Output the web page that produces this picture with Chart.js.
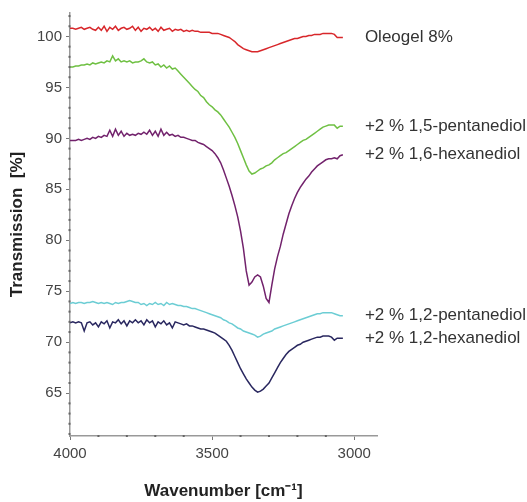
<!DOCTYPE html>
<html>
<head>
<meta charset="utf-8">
<script src="https://cdn.jsdelivr.net/npm/chart.js@4.4.0/dist/chart.umd.min.js"></script>
<style>
  body { margin: 0; background: #fff; }
</style>
</head>
<body>
<canvas id="irChart" width="527" height="502"></canvas>
<script>
// wavenumber grid, cm-1
const wavenumbers = [
  4000,3990,3980,3970,3960,3950,3940,3930,3920,3910,
  3900,3890,3880,3870,3860,3850,3840,3830,3820,3810,
  3800,3790,3780,3770,3760,3750,3740,3730,3720,3710,
  3700,3690,3680,3670,3660,3650,3640,3630,3620,3610,
  3600,3590,3580,3570,3560,3550,3540,3530,3520,3510,
  3500,3490,3480,3470,3460,3450,3440,3430,3420,3410,
  3400,3390,3380,3370,3360,3350,3340,3330,3320,3310,
  3300,3290,3280,3270,3260,3250,3240,3230,3220,3210,
  3200,3190,3180,3170,3160,3150,3140,3130,3120,3110,
  3100,3090,3080,3070,3060,3050,3040
];

const oleogel = [
  100.8,100.8,100.7,100.8,100.9,100.7,100.8,100.9,100.7,100.6,
  100.9,100.6,101.0,100.5,100.9,100.7,101.0,100.6,100.8,100.9,
  100.7,100.8,101.0,100.6,100.9,100.5,100.8,100.7,100.9,100.6,
  100.8,100.5,100.9,100.6,100.7,100.8,100.5,100.7,100.6,100.7,
  100.5,100.6,100.5,100.6,100.5,100.5,100.4,100.4,100.4,100.4,
  100.3,100.3,100.3,100.2,100.1,100.0,99.9,99.7,99.5,99.2,
  99.0,98.8,98.7,98.6,98.5,98.5,98.5,98.6,98.7,98.8,
  98.9,99.0,99.1,99.2,99.3,99.4,99.5,99.6,99.7,99.8,
  99.8,99.9,100.0,100.0,100.1,100.1,100.2,100.2,100.2,100.3,
  100.3,100.3,100.3,100.2,99.9,99.9,99.9
];

const pentanediol15 = [
  97.0,97.0,97.1,97.1,97.2,97.2,97.3,97.2,97.4,97.3,
  97.4,97.5,97.4,97.6,97.5,98.1,97.6,97.8,97.5,97.6,
  97.5,97.6,97.4,97.5,97.5,97.6,97.8,97.5,97.4,97.5,
  97.2,97.3,97.0,97.2,96.9,97.1,96.8,96.9,96.6,96.3,
  96.0,95.7,95.4,95.1,94.8,94.6,94.2,94.0,93.6,93.3,
  93.1,92.8,92.6,92.3,91.9,91.5,91.1,90.6,90.1,89.5,
  88.8,88.1,87.4,86.8,86.5,86.6,86.8,87.0,87.1,87.3,
  87.4,87.6,87.9,88.1,88.3,88.5,88.6,88.8,89.0,89.2,
  89.4,89.6,89.8,89.9,90.1,90.3,90.5,90.7,90.9,91.1,
  91.2,91.3,91.3,91.3,91.0,91.2,91.2
];

const hexanediol16 = [
  89.8,89.8,89.8,89.9,89.8,89.9,90.0,89.9,90.1,90.0,
  90.2,90.1,90.3,90.2,90.8,90.2,90.9,90.3,90.7,90.2,
  90.5,90.3,90.4,90.3,90.5,90.4,90.6,90.4,90.8,90.3,
  90.7,90.2,90.9,90.3,90.6,90.3,90.4,90.2,90.3,90.1,
  90.1,90.0,89.9,89.8,89.8,89.6,89.5,89.4,89.2,89.0,
  88.8,88.5,88.1,87.6,86.9,86.1,85.3,84.4,83.4,82.3,
  80.9,79.2,77.0,75.6,75.9,76.4,76.6,76.4,75.5,74.3,
  73.9,75.6,77.2,78.4,79.4,80.6,81.6,82.6,83.4,84.1,
  84.7,85.2,85.6,86.0,86.3,86.7,87.0,87.3,87.5,87.7,
  87.9,88.0,88.0,88.1,88.0,88.3,88.4
];

const pentanediol12 = [
  73.8,73.9,73.8,73.9,73.9,73.8,73.9,73.9,74.0,73.9,
  73.8,73.9,73.8,73.9,73.8,73.7,73.9,73.8,73.9,73.9,
  74.0,74.1,74.0,73.9,73.9,73.7,73.8,73.6,73.8,73.7,
  73.9,73.7,73.8,73.6,73.9,73.7,73.8,73.7,73.6,73.6,
  73.5,73.5,73.4,73.3,73.3,73.2,73.1,73.0,72.9,72.8,
  72.7,72.6,72.5,72.4,72.2,72.1,71.9,71.8,71.6,71.4,
  71.3,71.1,71.0,70.9,70.8,70.7,70.5,70.6,70.8,70.9,
  71.0,71.1,71.3,71.4,71.5,71.6,71.7,71.8,71.9,72.0,
  72.1,72.2,72.3,72.4,72.5,72.6,72.7,72.8,72.8,72.9,
  72.9,72.9,72.9,72.8,72.7,72.6,72.6
];

const hexanediol12 = [
  71.9,72.0,71.9,72.0,71.9,71.1,71.9,72.0,71.7,71.9,
  71.5,72.0,71.8,72.1,71.4,72.0,71.9,72.2,71.8,72.1,
  71.6,72.1,71.9,72.2,71.9,72.1,71.7,72.2,71.9,72.1,
  71.5,72.0,71.8,72.1,71.7,71.9,71.4,72.0,71.9,71.8,
  71.7,71.8,71.6,71.6,71.5,71.4,71.3,71.3,71.2,71.1,
  71.0,70.9,70.7,70.5,70.3,70.1,69.7,69.2,68.6,68.0,
  67.4,66.9,66.4,66.0,65.6,65.3,65.1,65.2,65.4,65.7,
  66.0,66.5,67.0,67.5,68.0,68.4,68.8,69.1,69.3,69.5,
  69.7,69.8,70.0,70.1,70.2,70.3,70.4,70.5,70.5,70.6,
  70.6,70.6,70.5,70.2,70.4,70.4,70.4
];

const seriesLabels = [
  'Oleogel 8%',
  '+2 % 1,5-pentanediol',
  '+2 % 1,6-hexanediol',
  '+2 % 1,2-pentanediol',
  '+2 % 1,2-hexanediol'
];
const seriesValues = [oleogel, pentanediol15, hexanediol16, pentanediol12, hexanediol12];
const seriesColors = ['#d8272b', '#6fc043', '#72226c', '#6ccdd4', '#29275f'];

const xTicks = [4000, 3500, 3000];
const yTicks = [65, 70, 75, 80, 85, 90, 95, 100];

function toPoints(values) {
  return values.map((v, i) => ({ x: wavenumbers[i], y: v }));
}

// draws the series name next to the last point of each curve
const endLabels = {
  id: 'endLabels',
  afterDatasetsDraw(chart) {
    const ctx = chart.ctx;
    ctx.save();
    ctx.font = '17px "Liberation Sans", Arial, sans-serif';
    ctx.fillStyle = '#333';
    ctx.textBaseline = 'middle';
    chart.data.datasets.forEach((ds, i) => {
      const pts = chart.getDatasetMeta(i).data;
      const last = pts[pts.length - 1];
      ctx.fillText(ds.label, last.x + 22, last.y);
    });
    ctx.restore();
  }
};

// small dots for the minor ticks on both axes
const minorTicks = {
  id: 'minorTicks',
  afterDraw(chart) {
    const ctx = chart.ctx;
    const xs = chart.scales.x, ys = chart.scales.y;
    ctx.save();
    ctx.fillStyle = '#666';
    for (let v = Math.ceil(ys.min); v <= ys.max; v++) {
      if (v % 5 === 0) continue;
      ctx.fillRect(xs.left - 1.5, ys.getPixelForValue(v) - 1, 2, 2);
    }
    for (let v = 3000; v <= 4000; v += 100) {
      if (v % 500 === 0) continue;
      ctx.fillRect(xs.getPixelForValue(v) - 1, ys.bottom - 1, 2, 2);
    }
    ctx.restore();
  }
};

const tickFont = { family: '"Liberation Sans", Arial, sans-serif', size: 15 };
const titleFont = { family: '"Liberation Sans", Arial, sans-serif', size: 17, weight: 'bold' };

new Chart(document.getElementById('irChart').getContext('2d'), {
  type: 'line',
  data: {
    datasets: seriesValues.map((vals, i) => ({
      label: seriesLabels[i],
      data: toPoints(vals),
      borderColor: seriesColors[i],
      borderWidth: 1.5,
      pointRadius: 0,
      tension: 0,
      fill: false
    }))
  },
  options: {
    responsive: false,
    animation: false,
    layout: { padding: { left: 0, top: 12, right: 150, bottom: 0 } },
    plugins: {
      legend: { display: false },
      tooltip: { enabled: false }
    },
    scales: {
      x: {
        type: 'linear',
        reverse: true,
        min: 2920,
        max: 4000,
        afterFit(s) { s.height = 66; },
        afterBuildTicks(s) { s.ticks = xTicks.map(v => ({ value: v })); },
        border: { color: '#999', width: 1.5 },
        grid: { drawOnChartArea: false, tickLength: 4, color: '#777' },
        ticks: { font: tickFont, color: '#444', padding: 5, maxRotation: 0, callback: v => String(v) },
        title: {
          display: true,
          text: 'Wavenumber [cm⁻¹]',
          font: titleFont,
          color: '#222',
          padding: { top: 0, bottom: 0 }
        }
      },
      y: {
        min: 60.8,
        max: 102.3,
        afterFit(s) { s.width = 70; },
        afterBuildTicks(s) { s.ticks = yTicks.map(v => ({ value: v })); },
        border: { color: '#999', width: 1.5 },
        grid: { drawOnChartArea: false, tickLength: 4, color: '#777' },
        ticks: { font: tickFont, color: '#444', padding: 4, callback: v => String(v) },
        title: {
          display: true,
          text: 'Transmission  [%]',
          font: titleFont,
          color: '#222',
          padding: { top: 7, bottom: 0 }
        }
      }
    }
  },
  plugins: [endLabels, minorTicks]
});
</script>
</body>
</html>
